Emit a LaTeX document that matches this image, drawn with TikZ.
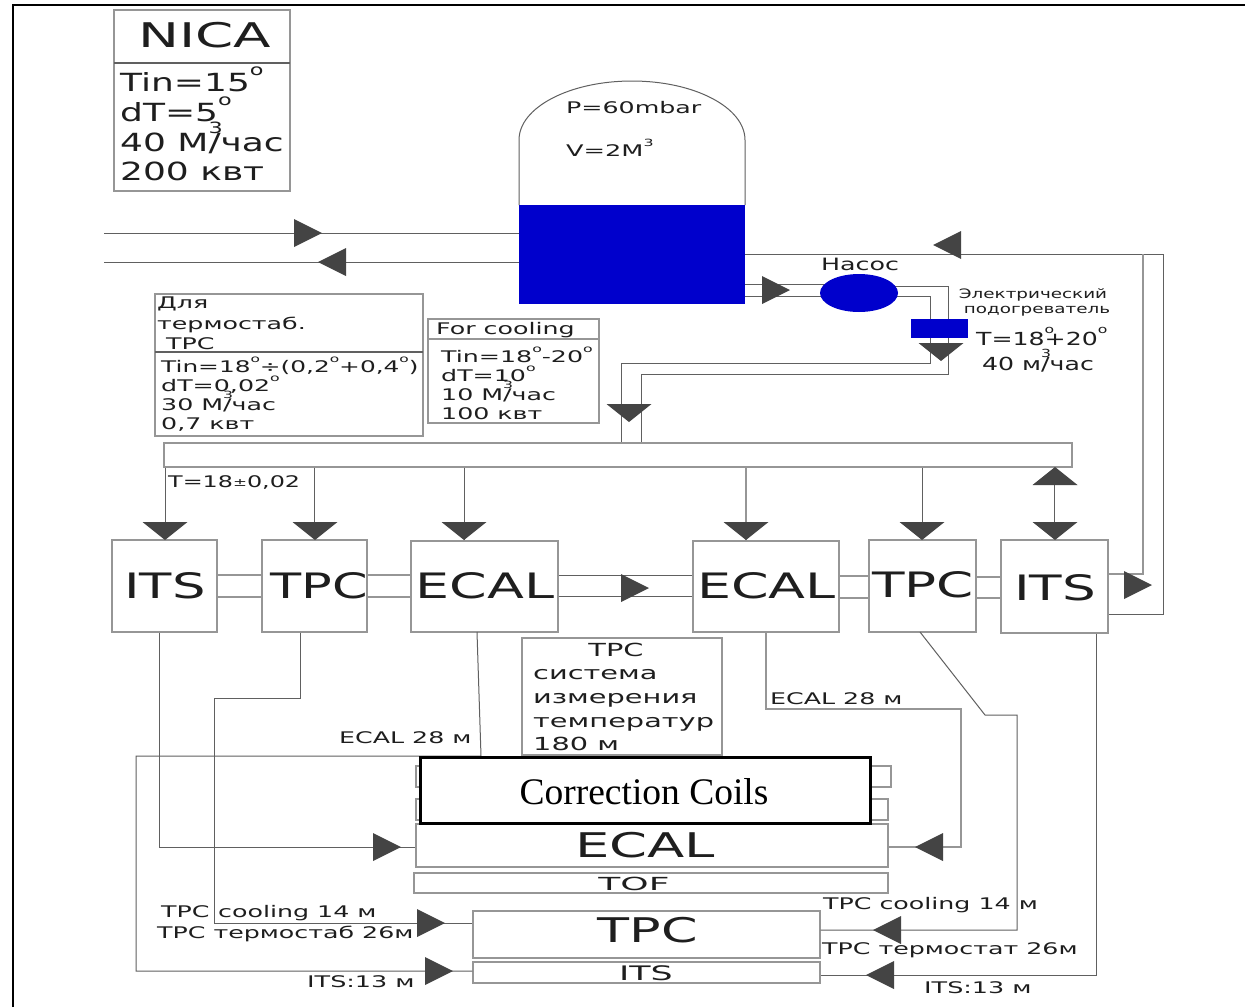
\documentclass[tikz,border=0pt]{standalone}
\usepackage{graphicx}
\usepackage{fontspec}
\setmainfont{DejaVu Sans}
\newfontfamily\serifcc{Liberation Serif}
\usetikzlibrary{calc,shapes.geometric}
\definecolor{pipe}{HTML}{606060}
\definecolor{boxline}{HTML}{969696}
\definecolor{tri}{HTML}{444444}
\definecolor{tank}{HTML}{0000CC}
\definecolor{ink}{HTML}{1E1E1E}
\tikzset{
  boxs/.style={draw=boxline,line width=1.2pt,fill=white,inner sep=0pt,rectangle},
  pipeline/.style={draw=pipe,line width=1pt},
  softline/.style={draw=boxline,line width=1.1pt},
  txt/.style={inner sep=0pt,text=ink},
  tipfill/.style={fill=tri,draw=none},
  bluefill/.style={fill=tank,draw=none,inner sep=0pt},
}
\newcommand\bx[6][]{\pgfmathsetmacro\wbx{#5-#3}\pgfmathsetmacro\hbx{#6-#4}\pgfmathsetmacro\xbx{(#3+#5)/2}\pgfmathsetmacro\ybx{(#4+#6)/2}
  \node[boxs,minimum width=\wbx pt,minimum height=\hbx pt,#1] (#2) at (\xbx,\ybx) {};}
\newcommand\lab[7]{\node[txt,anchor=#4,font=\fontsize{#5}{#5}\selectfont] (#1) at (#2,#3) {\scalebox{#6}[1]{#7}};}
\newcommand\tr[2]{\fill[tipfill] (#1,#2) -- ++(-28,-14) -- ++(0,28) -- cycle;}
\newcommand\tl[2]{\fill[tipfill] (#1,#2) -- ++(28,-14) -- ++(0,28) -- cycle;}
\newcommand\td[2]{\fill[tipfill] (#1,#2) -- ++(-22.5,-18) -- ++(45,0) -- cycle;}
\newcommand\tu[2]{\fill[tipfill] (#1,#2) -- ++(-22.5,18) -- ++(45,0) -- cycle;}
\newcommand\dg{\raisebox{.62em}{\scalebox{.62}{o}}}
\newcommand\dgz{\rlap{\raisebox{.62em}{\scalebox{.62}{o}}}}
\newcommand\cub{\rlap{\raisebox{.72em}{\scalebox{.62}{3}}}}
\begin{document}
\begin{tikzpicture}[x=1pt,y=-1pt]
\useasboundingbox (0,0) rectangle (1245,1007);
\fill[white] (0,0) rectangle (1245,1007);
% frame
\coordinate (fbl) at (13,1007); \coordinate (ftl) at (13,5); \coordinate (ftr) at (1245,5);
\draw[black,line width=1.4pt] (fbl) -- (ftl) -- (ftr);

% NICA
\bx{nica}{114}{10}{290}{191}
\coordinate (nicaL) at (114,63); \coordinate (nicaR) at (290,63);
\draw[draw=pipe,line width=1.2pt] (nicaL) -- (nicaR);
\lab{nicat}{205}{47}{base}{34}{1.61}{NICA}
\lab{n1}{120}{91}{base west}{25}{1.44}{Tin=15\dg}
\lab{n2}{120}{121}{base west}{25}{1.44}{dT=5\dg}
\lab{n3}{120}{151}{base west}{25}{1.44}{40 М\cub/час}
\lab{n4}{120}{180}{base west}{25}{1.44}{200 квт}

% tank
\coordinate (tl) at (519,205); \coordinate (tr) at (745,205);
\draw[pipe,line width=1pt] (tl) -- (519,140) arc[start angle=180,end angle=360,x radius=113,y radius=59] -- (tr);
\node[bluefill,minimum width=226pt,minimum height=99pt] (tank) at (632,254.5) {};
\lab{p1}{566}{113}{base west}{16}{1.58}{P=60mbar}
\lab{p2}{566}{156}{base west}{16}{1.6}{V=2М\raisebox{.62em}{\scalebox{.62}{3}}}

% inlets
\coordinate (ina) at (104,233); \coordinate (inb) at (104,262);
\draw[pipeline] (ina) -- (ina -| tank.west);
\draw[pipeline] (inb) -- (inb -| tank.west);
\tr{322}{233}
\tl{318}{262}

% pump and heater
\coordinate (pumpc) at (859,293);
\coordinate (heatc) at (939.5,328.5);
\coordinate (ta1) at (745,284); \coordinate (ta2) at (745,296);
\draw[pipeline] (ta1) -- (ta1 -| pumpc);
\draw[pipeline] (ta2) -- (ta2 -| pumpc);
\tr{790}{290}
\bx{bus}{164}{443}{1072}{467}
\coordinate (o1) at (948,286); \coordinate (o2) at (948,374); \coordinate (o3) at (641,374);
\coordinate (i1) at (930,296); \coordinate (i2) at (930,363); \coordinate (i3) at (621,363);
\draw[pipeline] (pumpc |- o1) -- (o1) -- (o2) -- (o3) -- (o3 |- bus.north);
\draw[pipeline] (pumpc |- i1) -- (i1) -- (i2) -- (i3) -- (i3 |- bus.north);
\node[ellipse,bluefill,minimum width=78pt,minimum height=38pt] (pump) at (pumpc) {};
\node[bluefill,minimum width=57pt,minimum height=19pt] (heater) at (heatc) {};
\lab{pumpt}{860}{270}{base}{17}{1.49}{Насос}
\td{941}{361}
\td{629}{422}
\lab{e1}{1033}{298}{base}{13}{1.41}{Электрический}
\lab{e2}{1037}{313}{base}{13}{1.41}{подогреватель}
\lab{e3}{1037}{345}{base}{18}{1.4}{T=18\dgz+20\dgz}
\lab{e4}{1038}{370}{base}{18}{1.4}{40 м\cub/час}

% left info boxes
\bx{dl}{155}{294}{423}{436}
\coordinate (dlL) at (155,352); \coordinate (dlR) at (423,352);
\draw[draw=pipe,line width=1.1pt] (dlL) -- (dlR);
\lab{d1}{157}{308}{base west}{16}{1.58}{Для}
\lab{d2}{157}{329}{base west}{16}{1.58}{термостаб.}
\lab{d3}{166}{349}{base west}{16}{1.58}{TPC}
\lab{d4}{161}{372}{base west}{16}{1.55}{Tin=18\dg÷(0,2\dg+0,4\dg)}
\lab{d5}{161}{391}{base west}{16}{1.58}{dT=0,02\dg}
\lab{d6}{161}{410}{base west}{16}{1.58}{30 М\cub/час}
\lab{d7}{161}{429}{base west}{16}{1.58}{0,7 квт}

\bx{fc}{428}{319}{599}{423}
\coordinate (fcL) at (428,339); \coordinate (fcR) at (599,339);
\draw[softline] (fcL) -- (fcR);
\lab{f1}{436}{334}{base west}{16}{1.58}{For cooling}
\lab{f2}{441}{362}{base west}{16}{1.58}{Tin=18\dg-20\dg}
\lab{f3}{441}{381}{base west}{16}{1.58}{dT=10\dg}
\lab{f4}{441}{400}{base west}{16}{1.58}{10 М\cub/час}
\lab{f5}{441}{419}{base west}{16}{1.58}{100 квт}

% detector row
\bx{itsa}{112}{540}{217}{632}
\bx{tpca}{262}{540}{367}{632}
\bx{ecala}{411}{541}{558}{632}
\bx{ecalb}{693}{541}{839}{632}
\bx{tpcb}{869}{540}{976}{632}
\bx{itsb}{1001}{540}{1108}{633}
\lab{itsat}{165}{598}{base}{35}{1.51}{ITS}
\lab{tpcat}{319.5}{598}{base}{35}{1.455}{TPC}
\lab{ecalat}{485}{598}{base}{35}{1.54}{ECAL}
\lab{ecalbt}{766.5}{598}{base}{35}{1.54}{ECAL}
\lab{tpcbt}{923}{597}{base}{35}{1.52}{TPC}
\lab{itsbt}{1055}{600}{base}{35}{1.52}{ITS}

\draw[softline] ([yshift=-11pt]itsa.east) -- ([yshift=-11pt]itsa.east -| tpca.west);
\draw[softline] ([yshift=11pt]itsa.east) -- ([yshift=11pt]itsa.east -| tpca.west);
\draw[softline] ([yshift=-11pt]tpca.east) -- ([yshift=-11pt]tpca.east -| ecala.west);
\draw[softline] ([yshift=11pt]tpca.east) -- ([yshift=11pt]tpca.east -| ecala.west);
\draw[pipeline] ([yshift=-9.5pt]ecala.east) -- ([yshift=-9.5pt]ecala.east -| ecalb.west);
\draw[pipeline] ([yshift=11.5pt]ecala.east) -- ([yshift=11.5pt]ecala.east -| ecalb.west);
\draw[softline] ([yshift=-11.5pt]ecalb.east) -- ([yshift=-11.5pt]ecalb.east -| tpcb.west);
\draw[softline] ([yshift=10.5pt]ecalb.east) -- ([yshift=10.5pt]ecalb.east -| tpcb.west);
\draw[softline] ([yshift=-12pt]tpcb.east) -- ([yshift=-12pt]tpcb.east -| itsb.west);
\draw[softline] ([yshift=9pt]tpcb.east) -- ([yshift=9pt]tpcb.east -| itsb.west);
\tr{649}{588}

% bus drops
\coordinate (dp1) at (165,500); \coordinate (dp2) at (314,500); \coordinate (dp3) at (464,500);
\coordinate (dp4) at (746,500); \coordinate (dp5) at (922,500); \coordinate (dp6) at (1054,500);
\draw[pipeline] (bus.south -| dp1) -- (itsa.north -| dp1);
\draw[pipeline] (bus.south -| dp2) -- (tpca.north -| dp2);
\draw[pipeline] (bus.south -| dp3) -- (ecala.north -| dp3);
\draw[softline] (bus.south -| dp4) -- (ecalb.north -| dp4);
\draw[pipeline] (bus.south -| dp5) -- (tpcb.north -| dp5);
\draw[pipeline] (bus.south -| dp6) -- (itsb.north -| dp6);
\td{165}{540} \td{315}{540} \td{464}{540} \td{746}{540} \td{922}{540} \td{1055}{540} \tu{1055}{467}
\lab{tbus}{168}{487}{base west}{16}{1.49}{T=18\raisebox{.05em}{\scalebox{.7}{±}}0,02}

% return on the right
\coordinate (ra) at (1143,254); \coordinate (rb) at (1163,254);
\draw[pipeline] (745,254) -- (rb) -- (rb |- 0,614) -- (itsb.east |- 0,614);
\draw[draw=boxline,line width=1.8pt] (ra) -- (ra |- 0,574) -- (itsb.east |- 0,574);
\tl{933}{245}
\tr{1152}{585}

% inner detector
\bx{ca}{416}{766}{891}{787}
\bx{cb}{416}{799}{888}{820}
\bx{ecalm}{416}{824}{888}{867}
\bx{tof}{414}{873}{888}{893}
\bx{tpcm}{473}{911}{820}{958}
\bx{itsm}{473}{962}{820}{983}
\lab{ecalmt}{645}{857}{base}{34}{1.6}{ECAL}
\lab{toft}{634}{890}{base}{18}{2.0}{TOF}
\lab{tpcmt}{648}{942}{base}{34}{1.54}{TPC}
\lab{itsmt}{646}{980}{base}{20}{1.74}{ITS}

% TPC measurement box
\bx{meas}{522}{638}{722}{755}
\lab{m1}{616}{656}{base}{18}{1.6}{TPC}
\lab{m2}{533}{679}{base west}{18}{1.6}{система}
\lab{m3}{533}{703}{base west}{18}{1.6}{измерения}
\lab{m4}{533}{727}{base west}{18}{1.6}{температур}
\lab{m5}{533}{750}{base west}{18}{1.6}{180 м}

% lower connectors
\coordinate (a1) at (159,847);
\draw[pipeline] (a1 |- itsa.south) -- (a1) -- (ecalm.west |- a1);
\tr{401}{847}
\coordinate (b1) at (300,698); \coordinate (b2) at (214,698); \coordinate (b3) at (214,923);
\draw[pipeline] (b1 |- tpca.south) -- (b1) -- (b2) -- (b3) -- (tpcm.west |- b3);
\tr{445}{923}
\coordinate (c1) at (477,632); \coordinate (c2) at (481,756); \coordinate (c3) at (136,756); \coordinate (c4) at (136,971);
\draw[pipeline] (c1) -- (c2) -- (c3) -- (c4) -- (itsm.west |- c4);
\tr{453}{971}
\coordinate (d1c) at (766,709); \coordinate (d2c) at (961,709); \coordinate (d3c) at (961,847);
\draw[softline] (d1c |- ecalb.south) -- (d1c) -- (d2c) -- (d3c) -- (ecalm.east |- d3c);
\tl{915}{847}
\coordinate (e1c) at (920,632); \coordinate (e2c) at (985,715); \coordinate (e3c) at (1017,715); \coordinate (e4c) at (1017,930);
\draw[pipeline] (e1c) -- (e2c) -- (e3c) -- (e4c) -- (tpcm.east |- e4c);
\tl{873}{930}
\coordinate (f1c) at (1096,975);
\draw[pipeline] (f1c |- itsb.south) -- (f1c) -- (itsm.east |- f1c);
\tl{866}{975}

% correction coils
\node[draw=black,line width=3pt,fill=white,minimum width=450pt,minimum height=66pt,inner sep=0pt] (coils) at (645,790) {};
\node[inner sep=0pt,font=\serifcc\fontsize{37.5}{37.5}\selectfont,text=black] (coilst) at (644,792) {Correction Coils};

% lengths
\lab{l1}{339}{743}{base west}{16}{1.58}{ECAL 28 м}
\lab{l2}{770}{704}{base west}{16}{1.58}{ECAL 28 м}
\lab{l3}{161}{917}{base west}{16}{1.58}{TPC}
\lab{l3b}{218}{917}{base west}{16}{1.58}{cooling 14 м}
\lab{l4}{157}{938}{base west}{16}{1.58}{TPC термостаб 26м}
\lab{l5}{307}{987}{base west}{16}{1.59}{ITS:13 м}
\lab{l6}{823}{909}{base west}{16}{1.58}{TPC cooling 14 м}
\lab{l7}{822}{954}{base west}{16}{1.58}{TPC термостат 26м}
\lab{l8}{924}{993}{base west}{16}{1.59}{ITS:13 м}
\end{tikzpicture}
\end{document}
